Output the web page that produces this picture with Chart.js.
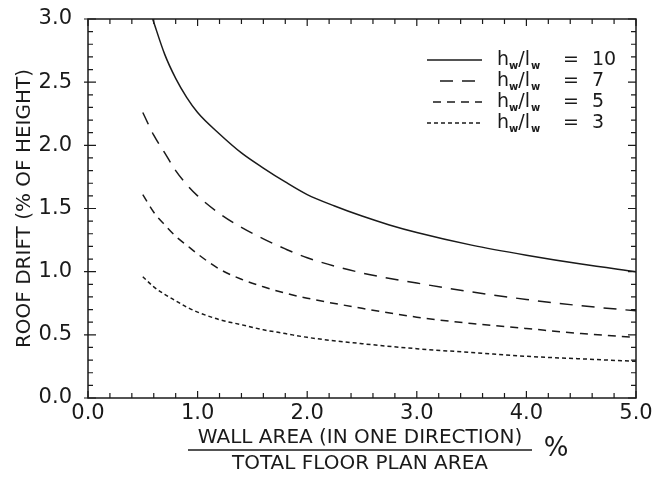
<!DOCTYPE html>
<html lang="en">
<head>
    <meta charset="UTF-8">
    <title>Roof drift vs wall area</title>
    <script src="https://cdn.jsdelivr.net/npm/chart.js"></script>
    <style>
        * { margin: 0; padding: 0; box-sizing: border-box; }
        body { background: #fff; width: 653px; height: 477px; overflow: hidden; }
        canvas { display: block; }
    </style>
</head>
<body>
    <canvas id="drift" width="653" height="477"></canvas>

    <script>
        // values
        const xsHigh = [0.59, 0.7, 0.8, 0.9, 1.0, 1.2, 1.4, 1.6, 1.8, 2.0, 2.25, 2.5, 2.75, 3.0, 3.5, 4.0, 4.5, 5.0];
        const ys10 = [3.0, 2.72, 2.53, 2.38, 2.26, 2.09, 1.94, 1.82, 1.71, 1.61, 1.52, 1.44, 1.37, 1.31, 1.21, 1.13, 1.06, 1.00];

        const xsLow = [0.5, 0.6, 0.7, 0.8, 0.9, 1.0, 1.2, 1.4, 1.6, 1.8, 2.0, 2.5, 3.0, 3.5, 4.0, 4.5, 5.0];
        const ys7 = [2.26, 2.08, 1.94, 1.80, 1.69, 1.60, 1.46, 1.35, 1.26, 1.18, 1.11, 0.99, 0.91, 0.84, 0.78, 0.73, 0.69];
        const ys5 = [1.61, 1.47, 1.37, 1.28, 1.21, 1.14, 1.02, 0.94, 0.88, 0.83, 0.79, 0.71, 0.64, 0.59, 0.55, 0.51, 0.48];
        const ys3 = [0.96, 0.88, 0.82, 0.77, 0.72, 0.68, 0.62, 0.58, 0.54, 0.51, 0.48, 0.43, 0.39, 0.36, 0.33, 0.31, 0.29];

        const ratios = ['10', '7', '5', '3'];
        const xTicks = [0, 1, 2, 3, 4, 5];
        const yTicks = [0, 0.5, 1, 1.5, 2, 2.5, 3];

        const INK = '#1a1a1a';
        const FONT = '"DejaVu Sans", sans-serif';
        const dashes = [[], [13, 9], [8, 6], [4, 3]];

        function pts(xs, ys) {
            return xs.map((x, i) => ({ x: x, y: ys[i] }));
        }

        const series = [pts(xsHigh, ys10), pts(xsLow, ys7), pts(xsLow, ys5), pts(xsLow, ys3)];

        // ticks on all four sides, pointing inward, plus legend and x title
        const decor = {
            id: 'decor',
            afterDraw(chart) {
                const ctx = chart.ctx;
                const xs = chart.scales.x, ys = chart.scales.y;
                const a = chart.chartArea;
                ctx.save();
                ctx.strokeStyle = INK;
                ctx.lineWidth = 1.5;
                ctx.strokeRect(a.left, a.top, a.right - a.left, a.bottom - a.top);

                ctx.lineWidth = 1.2;
                for (let i = 0; i <= 25; i++) {
                    const px = xs.getPixelForValue(i * 0.2);
                    const len = i % 5 === 0 ? 7 : 5;
                    ctx.beginPath();
                    ctx.moveTo(px, a.bottom); ctx.lineTo(px, a.bottom - len);
                    ctx.moveTo(px, a.top); ctx.lineTo(px, a.top + len);
                    ctx.stroke();
                }
                for (let i = 0; i <= 30; i++) {
                    const py = ys.getPixelForValue(i * 0.1);
                    const len = i % 5 === 0 ? 8 : 5;
                    ctx.beginPath();
                    ctx.moveTo(a.left - (i % 5 === 0 ? 4 : 0), py); ctx.lineTo(a.left + len, py);
                    ctx.moveTo(a.right, py); ctx.lineTo(a.right - len, py);
                    ctx.stroke();
                }

                // legend
                const rows = [60, 81, 102, 123];
                ctx.fillStyle = INK;
                ctx.textBaseline = 'middle';
                ctx.textAlign = 'left';
                rows.forEach((y, i) => {
                    ctx.lineWidth = 1.5;
                    ctx.setLineDash(dashes[i]);
                    const x0 = i === 1 ? 440 : (i === 2 ? 433 : 427);
                    ctx.beginPath();
                    ctx.moveTo(x0, y); ctx.lineTo(482, y);
                    ctx.stroke();
                    ctx.setLineDash([]);
                    let x = 497;
                    const big = '19px ' + FONT, small = 'bold 10px ' + FONT;
                    ctx.font = big; ctx.fillText('h', x, y); x += ctx.measureText('h').width;
                    ctx.font = small; ctx.fillText('w', x, y + 6); x += ctx.measureText('w').width;
                    ctx.font = big; ctx.fillText('/l', x, y); x += ctx.measureText('/l').width + 1;
                    ctx.font = small; ctx.fillText('w', x, y + 6);
                    ctx.font = big;
                    ctx.fillText('=', 563, y);
                    ctx.fillText(ratios[i], 592, y);
                });

                // x axis title as a fraction
                const cx = 360;
                ctx.textAlign = 'center';
                ctx.font = '20px ' + FONT;
                ctx.fillText('WALL AREA (IN ONE DIRECTION)', cx, 438);
                ctx.fillText('TOTAL FLOOR PLAN AREA', cx, 464);
                ctx.lineWidth = 1.3;
                ctx.beginPath();
                ctx.moveTo(188, 450); ctx.lineTo(532, 450);
                ctx.stroke();
                ctx.font = '26px ' + FONT;
                ctx.fillText('%', 556, 449);
                ctx.restore();
            }
        };

        new Chart(document.getElementById('drift'), {
            type: 'scatter',
            data: {
                datasets: series.map((d, i) => ({
                    label: 'hw/lw = ' + ratios[i],
                    data: d,
                    showLine: true,
                    borderColor: INK,
                    borderWidth: 1.5,
                    borderDash: dashes[i],
                    pointRadius: 0,
                    cubicInterpolationMode: 'monotone',
                    fill: false
                }))
            },
            options: {
                responsive: false,
                animation: false,
                devicePixelRatio: 1,
                layout: { padding: { top: 19, right: 17, left: 0, bottom: 0 } },
                plugins: {
                    legend: { display: false },
                    tooltip: { enabled: false }
                },
                scales: {
                    x: {
                        type: 'linear',
                        min: 0, max: 5,
                        afterBuildTicks(scale) { scale.ticks = xTicks.map(v => ({ value: v })); },
                        afterFit(scale) { scale.height = 79; scale.paddingLeft = 0; scale.paddingRight = 0; },
                        grid: { display: false, drawTicks: false },
                        border: { display: false },
                        ticks: {
                            color: INK,
                            padding: 3,
                            maxRotation: 0,
                            font: { family: FONT, size: 21 },
                            callback: v => Number(v).toFixed(1)
                        }
                    },
                    y: {
                        type: 'linear',
                        min: 0, max: 3,
                        afterBuildTicks(scale) { scale.ticks = yTicks.map(v => ({ value: v })); },
                        afterFit(scale) { scale.width = 88; scale.paddingTop = 0; scale.paddingBottom = 0; },
                        grid: { display: false, drawTicks: false },
                        border: { display: false },
                        title: {
                            display: true,
                            text: 'ROOF DRIFT (% OF HEIGHT)',
                            color: INK,
                            font: { family: FONT, size: 20 },
                            padding: { top: 13, bottom: 0 }
                        },
                        ticks: {
                            color: INK,
                            padding: 16,
                            font: { family: FONT, size: 21 },
                            callback: v => Number(v).toFixed(1)
                        }
                    }
                }
            },
            plugins: [decor]
        });
    </script>
</body>
</html>
